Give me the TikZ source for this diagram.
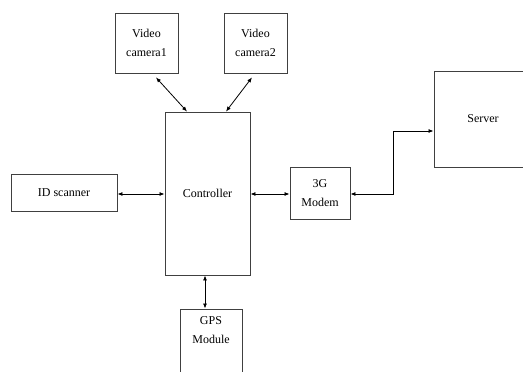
\documentclass[tikz,border=0pt]{standalone}
\usepackage{fontspec}
\setmainfont{Liberation Serif}
\usetikzlibrary{arrows.meta}

\begin{document}
\begin{tikzpicture}[x=1pt, y=-1pt,
    box/.style={rectangle, draw=black!75, line width=0.9pt, align=center, inner sep=0pt, font=\fontsize{12}{19}\selectfont},
    biarrow/.style={{Latex[length=5pt,width=4pt]}-{Latex[length=5pt,width=4pt]}, line width=0.8pt}]

    % page frame
    \clip (0,0) rectangle (523,372);

    % Cameras
    \node[box, minimum width=63pt, minimum height=60pt] (cam1) at (146.5,43) {Video\\camera1};
    \node[box, minimum width=63pt, minimum height=60pt] (cam2) at (255.5,43) {Video\\camera2};

    % Controller and peripherals
    \node[box, minimum width=85pt, minimum height=163pt] (ctrl) at (207.5,193.5) {Controller};
    \node[box, minimum width=106pt, minimum height=37pt] (idsc) at (64,192.5) {ID scanner};
    \node[box, minimum width=60pt, minimum height=52pt] (modem) at (320,193) {3G\\Modem};
    \node[box, minimum width=98pt, minimum height=96pt] (srv) at (483,119) {Server};

    % GPS module (runs off the page)
    \node[box, minimum width=62pt, minimum height=80pt] (gps) at (211,349) {};
    \node[anchor=north, align=center, font=\fontsize{12}{19}\selectfont] (gpstext) at ([yshift=-4pt]gps.north) {GPS\\Module};

    % Arrows
    \draw[biarrow] ([xshift=9.5pt,yshift=-4pt]cam1.south) -- ([xshift=-20.5pt]ctrl.north);
    \draw[biarrow] ([xshift=-3.5pt,yshift=-4pt]cam2.south) -- ([xshift=18.5pt]ctrl.north);
    \draw[biarrow] ([yshift=-1.5pt]idsc.east) -- ([yshift=-1.5pt]idsc.east -| ctrl.west);
    \draw[biarrow] ([yshift=-0.5pt]ctrl.east) -- ([yshift=-0.5pt]ctrl.east -| modem.west);
    \draw[biarrow] ([yshift=-1pt]modem.east) -- ++(43,0) |- ([yshift=-12pt]srv.west);
    \draw[biarrow] ([xshift=-2.5pt]ctrl.south) -- ([xshift=-2.5pt]ctrl.south |- gps.north);
\end{tikzpicture}
\end{document}
